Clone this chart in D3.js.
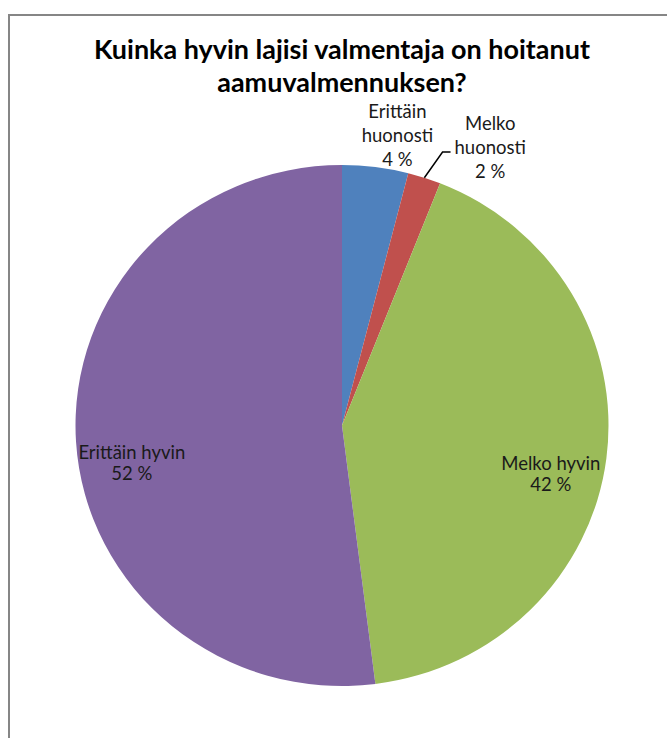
<!DOCTYPE html>
<html>
<head>
<meta charset="utf-8">
<script src="https://cdn.jsdelivr.net/npm/d3@7"></script>
<style>
  html, body { margin: 0; padding: 0; background: #fff; }
  svg { display: block; font-family: Lato, "Open Sans", sans-serif; }
</style>
</head>
<body>
<svg id="chart"></svg>
<script>
const titleLines = ["Kuinka hyvin lajisi valmentaja on hoitanut", "aamuvalmennuksen?"];
const categories = ["Erittäin huonosti", "Melko huonosti", "Melko hyvin", "Erittäin hyvin"];
const values = [4, 2, 42, 52];
const labelLines = [
  ["Erittäin", "huonosti"],
  ["Melko", "huonosti"],
  ["Melko hyvin"],
  ["Erittäin hyvin"]
];
const colors = ["#4F81BD", "#C0504D", "#9BBB59", "#8064A2"];

const width = 667;
const height = 738;
const cx = 342, cy = 425.5;
const ry = 260.5, rx = 266.5;
const sx = rx / ry;

// label placement: radius factor, nudges (layout only)
const labelRadius = [1.12, 1.12, 0.79, 0.79];
const labelNudge = [[18, 0], [56, 0], [0, 23], [0, 25]];
const outside = [true, true, false, false];

const svg = d3.select("#chart")
  .attr("width", width)
  .attr("height", height);

svg.append("rect")
  .attr("x", 9).attr("y", 15)
  .attr("width", 800).attr("height", 900)
  .attr("fill", "none")
  .attr("stroke", "#868686")
  .attr("stroke-width", 2);

// title, sized to the reference width
const title = svg.append("text")
  .attr("text-anchor", "middle")
  .attr("font-weight", "bold")
  .attr("fill", "#000");

title.selectAll("tspan")
  .data(titleLines)
  .enter()
  .append("tspan")
  .attr("x", cx)
  .attr("y", (d, i) => 59 + i * 33)
  .text(d => d);

title.attr("font-size", 24);
const w0 = title.select("tspan").node().getComputedTextLength();
title.attr("font-size", 24 * 496 / w0);

const pieData = d3.pie().sort(null).value(d => d)(values);
const arc = d3.arc().innerRadius(0).outerRadius(ry);

const g = svg.append("g")
  .attr("transform", `translate(${cx},${cy}) scale(${sx},1)`);

g.selectAll("path")
  .data(pieData)
  .enter()
  .append("path")
  .attr("d", arc)
  .attr("fill", (d, i) => colors[i]);

const labels = svg.append("g").attr("font-size", 18.5).attr("fill", "#1a1a1a");

pieData.forEach((d, i) => {
  const r = ry * labelRadius[i];
  const c = d3.arc().innerRadius(r).outerRadius(r).centroid(d);
  const lx = cx + c[0] * sx + labelNudge[i][0];
  const ly = cy + c[1] + labelNudge[i][1];
  const lines = labelLines[i].concat([values[i] + " %"]);
  const lh = outside[i] ? 24 : 21;
  const t = labels.append("text")
    .attr("text-anchor", "middle");
  t.selectAll("tspan")
    .data(lines)
    .enter()
    .append("tspan")
    .attr("x", lx)
    .attr("y", (s, j) => ly + (j - (lines.length - 1) / 2) * lh + 6)
    .text(s => s);

  if (i === 1) {
    // leader line from the slice edge to the label
    const bb = t.node().getBBox();
    const edge = d3.arc().innerRadius(ry).outerRadius(ry).centroid(d);
    const px = cx + edge[0] * sx, py = cy + edge[1];
    const kx = bb.x - 12, ky = bb.y + bb.height / 2 + 5;
    svg.append("path")
      .attr("d", d3.line()([[px, py], [kx, ky], [bb.x - 4, ky]]))
      .attr("fill", "none")
      .attr("stroke", "#000")
      .attr("stroke-width", 1.5);
  }
});
</script>
</body>
</html>
